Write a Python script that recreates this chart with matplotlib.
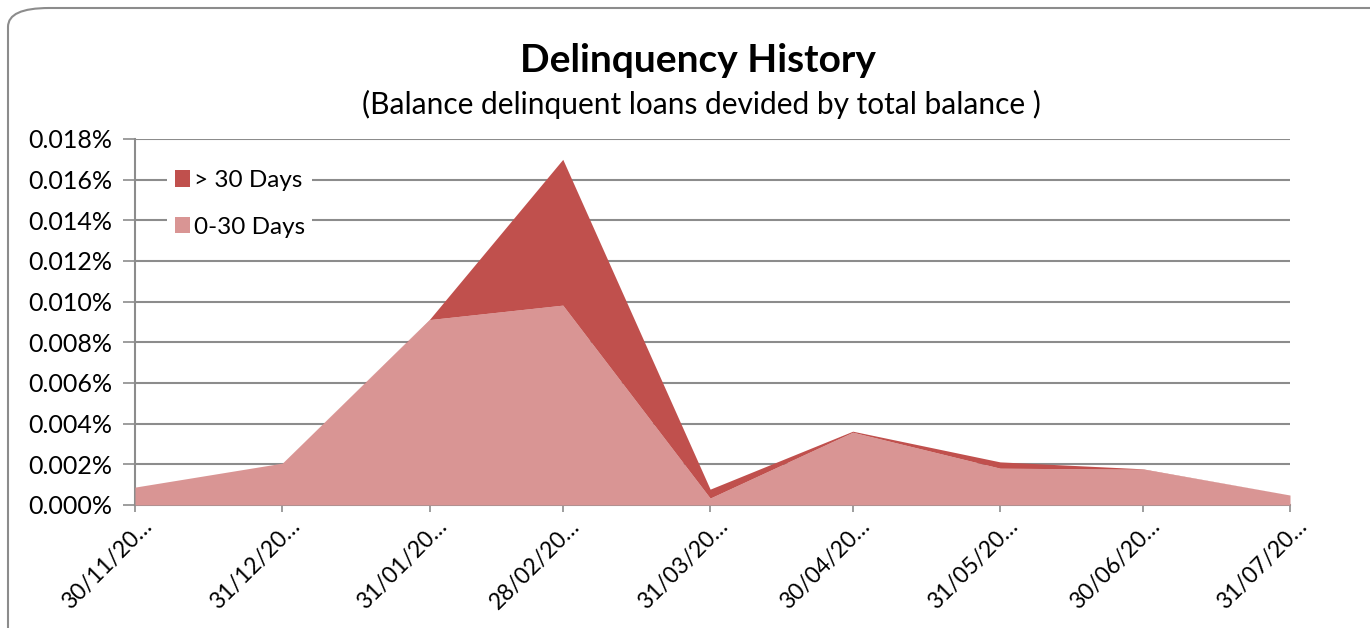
import matplotlib
matplotlib.use("Agg")
import matplotlib.pyplot as plt
import matplotlib.dates as mdates
from matplotlib.patches import FancyBboxPatch, Patch
from matplotlib.ticker import FuncFormatter, MultipleLocator
from matplotlib.transforms import ScaledTranslation
import datetime as dt

plt.rcParams['font.family'] = ['Lato', 'DejaVu Sans']

dates = ["2013-11-30", "2013-12-31", "2014-01-31", "2014-02-28", "2014-03-31",
         "2014-04-30", "2014-05-31", "2014-06-30", "2014-07-31"]
tick_labels = ["30/11/20…", "31/12/20…", "31/01/20…", "28/02/20…", "31/03/20…",
               "30/04/20…", "31/05/20…", "30/06/20…", "31/07/20…"]
days_0_30 = [0.00088, 0.00206, 0.00912, 0.00983, 0.00034, 0.00358, 0.00181, 0.00176, 0.00049]
days_over_30 = [0.0, 0.0, 0.00002, 0.00717, 0.00044, 0.00005, 0.00031, 0.00002, 0.0]

x = [mdates.date2num(dt.date.fromisoformat(d)) for d in dates]

W, H = 1370, 628
fig = plt.figure(figsize=(W / 100, H / 100), dpi=100)

# chart border (rounded)
border = FancyBboxPatch((8 / W, -0.1), 1.1, (H - 8) / H + 0.1,
                        boxstyle="round,pad=0,rounding_size=0.03",
                        transform=fig.transFigure, facecolor="white",
                        edgecolor="#8c8c8c", linewidth=1.5, zorder=-5)
fig.patches.append(border)

ax = fig.add_axes([135 / W, 1 - 505 / H, (1290 - 135) / W, (505 - 139) / H])
ax.set_zorder(2)
ax.set_facecolor("none")

c_light = "#D99594"
c_dark = "#C0504D"
top = [a + b for a, b in zip(days_0_30, days_over_30)]
ax.fill_between(x, 0, days_0_30, color=c_light, linewidth=0, zorder=3)
ax.fill_between(x, days_0_30, top, color=c_dark, linewidth=0, zorder=3)

ax.set_xlim(x[0], x[-1])
ax.set_ylim(0, 0.018)
ax.yaxis.set_major_locator(MultipleLocator(0.002))
ax.yaxis.set_major_formatter(FuncFormatter(lambda v, p: f"{v:.3f}%"))
ax.grid(axis='y', color="#8c8c8c", linewidth=1.5, zorder=1)
ax.set_axisbelow(True)

ax.set_xticks(x)
ax.set_xticklabels(tick_labels, rotation=45, ha='right', va='center',
                   rotation_mode='anchor', fontsize=16.5)
ax.tick_params(axis='x', length=5, width=1.2, color="#8c8c8c", pad=8)
ax.tick_params(axis='y', length=8.6, width=1.2, color="#8c8c8c", labelsize=18, pad=8)
offset = ScaledTranslation(0.14, 0, fig.dpi_scale_trans)
for lbl in ax.get_xticklabels():
    lbl.set_transform(lbl.get_transform() + offset)

for s in ['top', 'right']:
    ax.spines[s].set_visible(False)
ax.spines['left'].set_color("#8c8c8c")
ax.spines['left'].set_linewidth(1.5)
ax.spines['bottom'].set_color("#8c8c8c")
ax.spines['bottom'].set_linewidth(1.5)

handles = [Patch(facecolor=c_dark, label="> 30 Days"),
           Patch(facecolor=c_light, label="0-30 Days")]
leg = ax.legend(handles=handles, loc='upper left', bbox_to_anchor=(0.028, 0.935),
                frameon=True, fontsize=17.5, handlelength=0.65, handleheight=0.65,
                handletextpad=0.15, labelspacing=1.05, borderpad=0.3,
                borderaxespad=0)
leg.get_frame().set_edgecolor('none')
leg.get_frame().set_facecolor('white')
leg.get_frame().set_alpha(1)

fig.text(698 / W, 1 - 60 / H, "Delinquency History", ha='center', va='center',
         fontsize=28, fontweight='bold')
fig.text(701 / W, 1 - 104 / H, "(Balance delinquent loans devided by total balance )",
         ha='center', va='center', fontsize=21.5)

fig.savefig("out.png", dpi=100)
